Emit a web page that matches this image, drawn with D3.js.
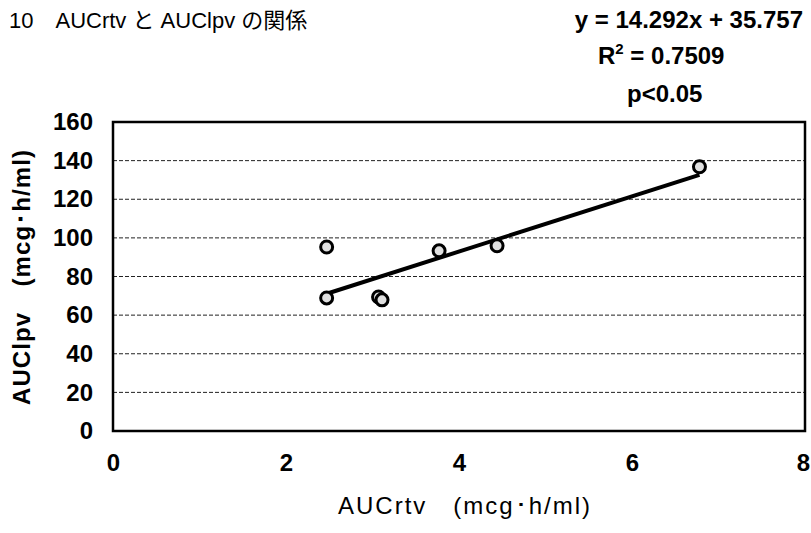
<!DOCTYPE html>
<html>
<head>
<meta charset="utf-8">
<script src="https://cdn.jsdelivr.net/npm/d3@7"></script>
<style>
    body { margin: 0; background: #fff; }
    svg { display: block; }
    .num { font-family: "Liberation Sans", Arial, sans-serif; }
</style>
</head>
<body>
<svg id="chart" width="811" height="533"></svg>
<script>
// AUCrtv (x) vs AUClpv (y)
const aucRtv = [2.47, 2.47, 3.07, 3.11, 3.77, 4.44, 6.78];
const aucLpv = [95.3, 68.9, 69.4, 67.9, 93.3, 95.9, 136.8];

const xTicks = [0, 2, 4, 6, 8];
const yTicks = [0, 20, 40, 60, 80, 100, 120, 140, 160];

const slope = 14.292, intercept = 35.757;
const statLines = ["y = 14.292x + 35.757", " = 0.7509", "p<0.05"];

const svg = d3.select("#chart");
const margin = {top: 122, right: 6, bottom: 102, left: 113};
const width = +svg.attr("width");
const height = +svg.attr("height");

const x = d3.scaleLinear().domain([0, 8]).range([margin.left, width - margin.right]);
const y = d3.scaleLinear().domain([0, 160]).range([height - margin.bottom, margin.top]);

// gridlines (dashed)
svg.append("g")
    .selectAll("line")
    .data(yTicks.filter(d => d > 0 && d < 160))
    .join("line")
    .attr("x1", x(0)).attr("x2", x(8))
    .attr("y1", d => y(d)).attr("y2", d => y(d))
    .attr("stroke", "#222")
    .attr("stroke-width", 1)
    .attr("stroke-dasharray", "4,2");

// tick labels via d3 axes, domain hidden
svg.append("g")
    .attr("transform", `translate(${x(0)},0)`)
    .call(d3.axisLeft(y).tickValues(yTicks).tickSize(0).tickPadding(20))
    .call(g => g.select(".domain").remove())
    .call(g => g.selectAll("text")
        .attr("class", "num")
        .attr("font-size", "24px")
        .attr("font-weight", "bold")
        .attr("fill", "#000"));

svg.append("g")
    .attr("transform", `translate(0,${y(0)})`)
    .call(d3.axisBottom(x).tickValues(xTicks).tickSize(0).tickPadding(23))
    .call(g => g.select(".domain").remove())
    .call(g => g.selectAll("text")
        .attr("class", "num")
        .attr("font-size", "24px")
        .attr("font-weight", "bold")
        .attr("fill", "#000")
        .attr("dx", d => d === 8 ? -2 : 0)); // keep the last label inside the page

// plot frame
svg.append("rect")
    .attr("x", x(0)).attr("y", y(160))
    .attr("width", x(8) - x(0)).attr("height", y(0) - y(160))
    .attr("fill", "none")
    .attr("stroke", "#000")
    .attr("stroke-width", 2.5);

// trend line across data range
const xMin = d3.min(aucRtv), xMax = d3.max(aucRtv);
svg.append("line")
    .attr("x1", x(xMin)).attr("y1", y(slope * xMin + intercept))
    .attr("x2", x(xMax)).attr("y2", y(slope * xMax + intercept))
    .attr("stroke", "#000")
    .attr("stroke-width", 4);

// points
svg.append("g")
    .selectAll("circle")
    .data(aucRtv.map((d, i) => [d, aucLpv[i]]))
    .join("circle")
    .attr("cx", d => x(d[0]))
    .attr("cy", d => y(d[1]))
    .attr("r", 6)
    .attr("fill", "#e0e0e0")
    .attr("stroke", "#000")
    .attr("stroke-width", 3);

// title
svg.append("text")
    .attr("x", 9).attr("y", 28)
    .attr("font-family", "'Liberation Sans', 'Noto Sans CJK JP', sans-serif")
    .attr("font-size", "22px")
    .text("10　AUCrtv と AUClpv の関係");

// regression stats
svg.append("text")
    .attr("class", "num")
    .attr("x", 803).attr("y", 28)
    .attr("text-anchor", "end")
    .attr("font-size", "24px")
    .attr("font-weight", "bold")
    .text(statLines[0]);

const r2 = svg.append("text")
    .attr("class", "num")
    .attr("x", 598).attr("y", 64)
    .attr("font-size", "24px")
    .attr("font-weight", "bold");
r2.append("tspan").text("R");
r2.append("tspan").attr("dy", -10).attr("font-size", "15px").text("2");
r2.append("tspan").attr("dy", 10).text(statLines[1]);

svg.append("text")
    .attr("class", "num")
    .attr("x", 627).attr("y", 102)
    .attr("font-size", "24px")
    .attr("font-weight", "bold")
    .text(statLines[2]);

// axis titles
svg.append("text")
    .attr("class", "num")
    .attr("x", 338).attr("y", 514)
    .attr("font-size", "24px")
    .attr("textLength", 252)
    .attr("lengthAdjust", "spacing")
    .text("AUCrtv　(mcg･h/ml)");

svg.append("text")
    .attr("class", "num")
    .attr("transform", "translate(30,405) rotate(-90)")
    .attr("font-size", "24px")
    .attr("font-weight", "bold")
    .attr("textLength", 255)
    .attr("lengthAdjust", "spacing")
    .text("AUClpv　(mcg･h/ml)");
</script>
</body>
</html>
